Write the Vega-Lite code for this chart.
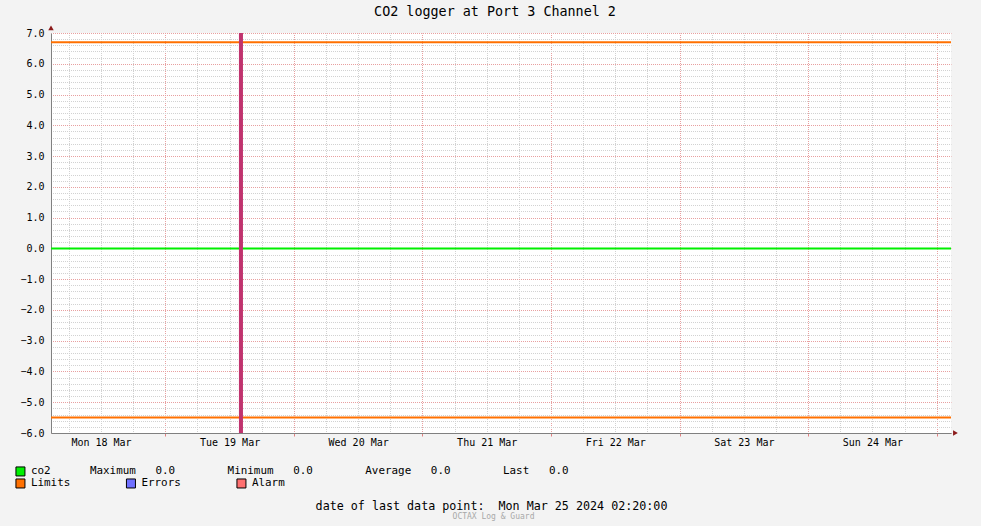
{
  "$schema": "https://vega.github.io/schema/vega-lite/v6.json",
  "width": 900,
  "height": 400,
  "autosize": {"type": "none"},
  "padding": {"left": 51, "top": 33, "right": 30, "bottom": 93},
  "background": "#f3f3f3",
  "title": {
    "text": "CO2 logger at Port 3 Channel 2",
    "font": "DejaVu Sans Mono",
    "fontSize": 13.4,
    "fontWeight": "normal",
    "color": "#000000",
    "anchor": "middle",
    "frame": "group",
    "dx": -6,
    "offset": 7
  },
  "config": {
    "view": {"stroke": null, "fill": "#ffffff"},
    "font": "DejaVu Sans Mono",
    "axis": {
      "labelFont": "DejaVu Sans Mono",
      "labelFontSize": 10,
      "labelColor": "#000000",
      "titleFont": "DejaVu Sans Mono",
      "titleFontWeight": "normal",
      "titleColor": "#000000"
    },
    "legend": {
      "labelFont": "DejaVu Sans Mono",
      "labelFontSize": 10.9,
      "labelColor": "#000000",
      "labelLimit": 2000
    }
  },
  "datasets": {
    "co2": [
      {"time": "2024-03-18T02:40:00", "series": "co2", "value": 0},
      {"time": "2024-03-25T02:40:00", "series": "co2", "value": 0}
    ],
    "limits": [
      {"series": "Limits", "value": 6.7},
      {"series": "Limits", "value": -5.5}
    ],
    "alarm": [
      {"series": "Alarm", "start": "2024-03-19T13:45:00", "end": "2024-03-19T14:30:00"}
    ]
  },
  "resolve": {
    "scale": {"fill": "independent"},
    "axis": {"x": "independent", "y": "independent"}
  },
  "layer": [
    {
      "data": {"name": "co2"},
      "mark": {"type": "point", "opacity": 0},
      "encoding": {
        "x": {
          "field": "time",
          "type": "temporal",
          "scale": {
            "domain": [
              {"year": 2024, "month": 3, "date": 18, "hours": 2, "minutes": 40},
              {"year": 2024, "month": 3, "date": 25, "hours": 2, "minutes": 40}
            ],
            "nice": false
          },
          "axis": {
            "orient": "bottom",
            "values": [
              {"year": 2024, "month": 3, "date": 18, "hours": 6},
              {"year": 2024, "month": 3, "date": 18, "hours": 12},
              {"year": 2024, "month": 3, "date": 18, "hours": 18},
              {"year": 2024, "month": 3, "date": 19, "hours": 6},
              {"year": 2024, "month": 3, "date": 19, "hours": 12},
              {"year": 2024, "month": 3, "date": 19, "hours": 18},
              {"year": 2024, "month": 3, "date": 20, "hours": 6},
              {"year": 2024, "month": 3, "date": 20, "hours": 12},
              {"year": 2024, "month": 3, "date": 20, "hours": 18},
              {"year": 2024, "month": 3, "date": 21, "hours": 6},
              {"year": 2024, "month": 3, "date": 21, "hours": 12},
              {"year": 2024, "month": 3, "date": 21, "hours": 18},
              {"year": 2024, "month": 3, "date": 22, "hours": 6},
              {"year": 2024, "month": 3, "date": 22, "hours": 12},
              {"year": 2024, "month": 3, "date": 22, "hours": 18},
              {"year": 2024, "month": 3, "date": 23, "hours": 6},
              {"year": 2024, "month": 3, "date": 23, "hours": 12},
              {"year": 2024, "month": 3, "date": 23, "hours": 18},
              {"year": 2024, "month": 3, "date": 24, "hours": 6},
              {"year": 2024, "month": 3, "date": 24, "hours": 12},
              {"year": 2024, "month": 3, "date": 24, "hours": 18}
            ],
            "grid": true,
            "gridColor": "#d2d2d2",
            "gridDash": [1, 1],
            "gridDashOffset": 0.5,
            "labels": false,
            "ticks": false,
            "domain": false,
            "title": "OCTAX Log & Guard",
            "titleFontSize": 8,
            "titleColor": "#a8a8a8",
            "titleX": 442,
            "titleY": 85,
            "titleAlign": "center",
            "titleBaseline": "alphabetic"
          }
        },
        "y": {
          "field": "value",
          "type": "quantitative",
          "scale": {"domain": [-6, 7], "nice": false, "zero": false},
          "axis": {
            "orient": "left",
            "values": [-5.8, -5.6, -5.4, -5.2, -4.8, -4.6, -4.4, -4.2, -3.8, -3.6, -3.4, -3.2, -2.8, -2.6, -2.4, -2.2, -1.8, -1.6, -1.4, -1.2, -0.8, -0.6, -0.4, -0.2, 0.2, 0.4, 0.6, 0.8, 1.2, 1.4, 1.6, 1.8, 2.2, 2.4, 2.6, 2.8, 3.2, 3.4, 3.6, 3.8, 4.2, 4.4, 4.6, 4.8, 5.2, 5.4, 5.6, 5.8, 6.2, 6.4, 6.6, 6.8],
            "grid": true,
            "gridColor": "#d2d2d2",
            "gridDash": [1, 1],
            "gridDashOffset": 0.5,
            "labels": false,
            "ticks": false,
            "domain": false,
            "title": null
          }
        }
      }
    },
    {
      "data": {"name": "co2"},
      "mark": {"type": "point", "opacity": 0},
      "encoding": {
        "x": {
          "field": "time",
          "type": "temporal",
          "axis": {
            "orient": "bottom",
            "tickCount": 7,
            "grid": true,
            "gridColor": "#e8a0a0",
            "gridDash": [1, 1],
            "gridDashOffset": 0.5,
            "labels": false,
            "ticks": true,
            "tickSize": 3,
            "tickColor": "#e08080",
            "domain": false,
            "title": null
          }
        },
        "y": {
          "field": "value",
          "type": "quantitative",
          "axis": {
            "orient": "left",
            "values": [-6, -5, -4, -3, -2, -1, 0, 1, 2, 3, 4, 5, 6, 7],
            "format": ".1f",
            "grid": true,
            "gridColor": "#e8a0a0",
            "gridDash": [1, 1],
            "gridDashOffset": 0.5,
            "ticks": false,
            "labelPadding": 7,
            "domain": true,
            "domainColor": "#808080",
            "title": null
          }
        }
      }
    },
    {
      "data": {"name": "co2"},
      "mark": {"type": "line", "strokeWidth": 2, "color": "#00f000"},
      "encoding": {
        "x": {
          "field": "time",
          "type": "temporal",
          "axis": {
            "orient": "bottom",
            "values": [
              {"year": 2024, "month": 3, "date": 18, "hours": 12},
              {"year": 2024, "month": 3, "date": 19, "hours": 12},
              {"year": 2024, "month": 3, "date": 20, "hours": 12},
              {"year": 2024, "month": 3, "date": 21, "hours": 12},
              {"year": 2024, "month": 3, "date": 22, "hours": 12},
              {"year": 2024, "month": 3, "date": 23, "hours": 12},
              {"year": 2024, "month": 3, "date": 24, "hours": 12}
            ],
            "format": "%a %d %b",
            "ticks": false,
            "grid": false,
            "labelPadding": 4,
            "domain": true,
            "domainColor": "#808080",
            "title": "date of last data point:\u00a0\u00a0Mon Mar 25 2024 02:20:00",
            "titleFontSize": 11.7,
            "titleX": 440,
            "titleY": 76,
            "titleAlign": "center",
            "titleBaseline": "alphabetic"
          }
        },
        "y": {"field": "value", "type": "quantitative", "axis": null}
      }
    },
    {
      "data": {"name": "co2"},
      "mark": {"type": "square", "filled": true, "opacity": 0},
      "encoding": {
        "x": {"field": "time", "type": "temporal", "axis": null},
        "y": {"field": "value", "type": "quantitative", "axis": null},
        "fill": {
          "field": "series",
          "type": "nominal",
          "scale": {"domain": ["co2"], "range": ["#00f000"]},
          "legend": {
            "orient": "none",
            "legendX": -36,
            "legendY": 433,
            "title": null,
            "padding": 0,
            "symbolType": "square",
            "symbolSize": 81,
            "symbolOpacity": 1,
            "symbolStrokeColor": "#000000",
            "symbolStrokeWidth": 1,
            "labelOffset": 5,
            "labelExpr": "'co2\u00a0\u00a0\u00a0\u00a0\u00a0\u00a0Maximum\u00a0\u00a0\u00a00.0\u00a0\u00a0\u00a0\u00a0\u00a0\u00a0\u00a0\u00a0Minimum\u00a0\u00a0\u00a00.0\u00a0\u00a0\u00a0\u00a0\u00a0\u00a0\u00a0\u00a0Average\u00a0\u00a0\u00a00.0\u00a0\u00a0\u00a0\u00a0\u00a0\u00a0\u00a0\u00a0Last\u00a0\u00a0\u00a00.0'"
          }
        }
      }
    },
    {
      "data": {"name": "limits"},
      "mark": {"type": "rule", "strokeWidth": 2, "color": "#ff7000"},
      "encoding": {
        "y": {"field": "value", "type": "quantitative", "axis": null}
      }
    },
    {
      "data": {"name": "limits"},
      "mark": {"type": "square", "filled": true, "opacity": 0},
      "encoding": {
        "y": {"field": "value", "type": "quantitative", "axis": null},
        "fill": {
          "field": "series",
          "type": "nominal",
          "scale": {"domain": ["Limits", "Errors", "Alarm"], "range": ["#ff7000", "#7070ff", "#ff7070"]},
          "legend": {
            "orient": "none",
            "legendX": -36,
            "legendY": 445,
            "title": null,
            "padding": 0,
            "columns": 3,
            "columnPadding": 52.5,
            "symbolType": "square",
            "symbolSize": 81,
            "symbolOpacity": 1,
            "symbolStrokeColor": "#000000",
            "symbolStrokeWidth": 1,
            "labelOffset": 5
          }
        }
      }
    },
    {
      "data": {"name": "alarm"},
      "mark": {"type": "rect", "color": "#c0336e"},
      "encoding": {
        "x": {"field": "start", "type": "temporal", "axis": null},
        "x2": {"field": "end"}
      }
    },
    {
      "data": {"values": [{}]},
      "mark": {"type": "point", "shape": "triangle-up", "filled": true, "color": "#8b1a1a", "size": 30, "opacity": 1},
      "encoding": {
        "x": {"datum": {"year": 2024, "month": 3, "date": 18, "hours": 2, "minutes": 40}, "type": "temporal", "axis": null},
        "y": {"datum": 7.17, "type": "quantitative", "axis": null}
      }
    },
    {
      "data": {"values": [{}]},
      "mark": {"type": "point", "shape": "triangle-right", "filled": true, "color": "#8b1a1a", "size": 30, "opacity": 1},
      "encoding": {
        "x": {"datum": {"year": 2024, "month": 3, "date": 25, "hours": 3, "minutes": 30}, "type": "temporal", "axis": null},
        "y": {"datum": -6, "type": "quantitative", "axis": null}
      }
    }
  ]
}
